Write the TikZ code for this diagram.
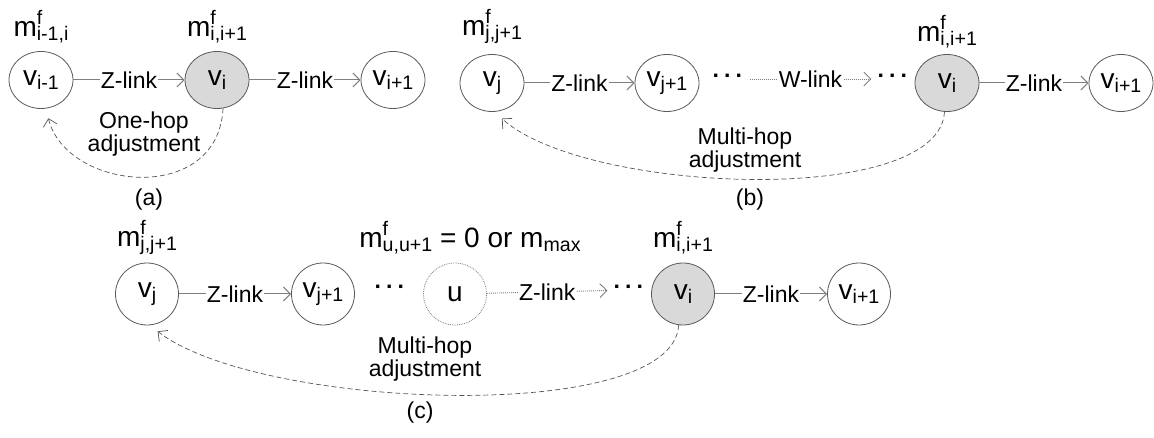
\documentclass[tikz,border=0pt]{standalone}
\usepackage{fontspec}
\setmainfont{Liberation Sans}
\usetikzlibrary{arrows.meta,positioning,shapes.geometric}
\definecolor{rim}{HTML}{5A5A5A}
\definecolor{shade}{HTML}{D9D9D9}
\definecolor{wire}{HTML}{7F7F7F}
\definecolor{hopline}{HTML}{555555}
\newcommand{\scr}[1]{{\fontsize{19.6}{20}\selectfont #1}}
\newcommand{\lo}[1]{\raisebox{-0.15em}{\scr{#1}}}
\newcommand{\mf}[1]{m\rlap{\raisebox{0.42em}{\scr{f}}}\lo{#1}}
\newcommand{\vs}[1]{v\lo{#1}}
\newcommand{\bigtxt}{\fontsize{28}{32}\selectfont}
\newcommand{\smalltxt}{\fontsize{23}{21}\selectfont}
\tikzset{
  x=1pt,y=-1pt,
  every node/.style={text=black},
  vnode/.style={ellipse,draw=rim,line width=0.8pt,fill=white,minimum width=64pt,minimum height=57pt,inner sep=0pt,font=\bigtxt},
  vnodec/.style={vnode,minimum width=63pt,minimum height=62pt},
  curnode/.style={fill=shade},
  ghost/.style={densely dotted,draw=wire},
  mlabel/.style={font=\bigtxt,inner sep=0pt},
  dots/.style={font=\smalltxt\bfseries,inner xsep=6pt,inner ysep=0pt},
  zlink/.style={draw=wire,line width=1pt,-{Straight Barb[length=7pt,width=14pt]}},
  wlink/.style={zlink,densely dotted,line width=0.9pt},
  linktext/.style={font=\smalltxt,fill=white,inner xsep=1pt,inner ysep=1pt},
  adjarr/.style={draw=hopline,line width=0.7pt,dash pattern=on 5pt off 3pt,-{Straight Barb[length=7pt,width=14pt]},shorten >=10pt},
  note/.style={font=\smalltxt,align=center,inner sep=0pt},
  caption/.style={font=\smalltxt,inner sep=0pt},
}
\begin{document}
\begin{tikzpicture}
\useasboundingbox (0,0) rectangle (1154,438);

% (a) one-hop
\node[vnode] (va1) at (41,80) {\vs{i-1}};
\node[vnode,curnode] (vi_a) at (217,80) {\vs{i}};
\node[vnode] (vi1_a) at (393,80) {\vs{i+1}};
\node[mlabel,above=8pt of va1] (ma1) {\mf{i-1,i}};
\node[mlabel,above=8pt of vi_a] (mi_a) {\mf{i,i+1}};
\draw[zlink] (va1) -- node[linktext]{Z-link} (vi_a);
\draw[zlink] (vi_a) -- node[linktext]{Z-link} (vi1_a);
\node[note] (txa) at (144,134) {One-hop\\adjustment};
\draw[adjarr] (vi_a.-78) .. controls +(-5,98) and +(20,82) .. (va1.-80);
\node[caption] (capa) at (149,200) {(a)};

% (b) multi-hop over a W-link
\node[vnode] (vj_b) at (492,83) {\vs{j}};
\node[vnode] (vj1_b) at (667,83) {\vs{j+1}};
\node[dots] (d1b) at (728,79) {·\,·\,·};
\node[dots] (d2b) at (893,79) {·\,·\,·};
\node[vnode,curnode] (vi_b) at (947,83) {\vs{i}};
\node[vnode] (vi1_b) at (1121,83) {\vs{i+1}};
\node[mlabel,above=10pt of vj_b] (mj_b) {\mf{j,j+1}};
\node[mlabel,above=6pt of vi_b] (mi_b) {\mf{i,i+1}};
\draw[zlink] (vj_b) -- node[linktext]{Z-link} (vj1_b);
\draw[wlink] (d1b) -- node[linktext]{W-link} (d2b);
\draw[zlink] (vi_b) -- node[linktext]{Z-link} (vi1_b);
\node[note] (txb) at (745,150) {Multi-hop\\adjustment};
\draw[adjarr] (vi_b.-95) .. controls +(-5,96) and +(90,82) .. (vj_b.-85);
\node[caption] (capb) at (750,200) {(b)};

% (c) multi-hop past node u
\node[vnodec] (vj_c) at (147,294) {\vs{j}};
\node[vnodec] (vj1_c) at (323,294) {\vs{j+1}};
\node[dots] (d1c) at (390,290) {·\,·\,·};
\node[vnodec,ghost] (u_c) at (455,294) {u};
\node[dots] (d2c) at (629,290) {·\,·\,·};
\node[vnodec,curnode] (vi_c) at (683,294) {\vs{i}};
\node[vnodec] (vi1_c) at (859,294) {\vs{i+1}};
\node[mlabel,above=8pt of vj_c] (mj_c) {\mf{j,j+1}};
\node[mlabel,above=8pt of u_c,xshift=15pt] (mu_c) {\mf{u,u+1} = 0 or m\lo{max}};
\node[mlabel,above=8pt of vi_c] (mi_c) {\mf{i,i+1}};
\draw[zlink] (vj_c) -- node[linktext]{Z-link} (vj1_c);
\draw[wlink] (u_c) -- node[linktext]{Z-link} (d2c);
\draw[zlink] (vi_c) -- node[linktext]{Z-link} (vi1_c);
\node[note] (txc) at (425,359) {Multi-hop\\adjustment};
\draw[adjarr] (vi_c.-98) .. controls +(-5,100) and +(110,85) .. (vj_c.-85);
\node[caption] (capc) at (420,413) {(c)};

\end{tikzpicture}
\end{document}
